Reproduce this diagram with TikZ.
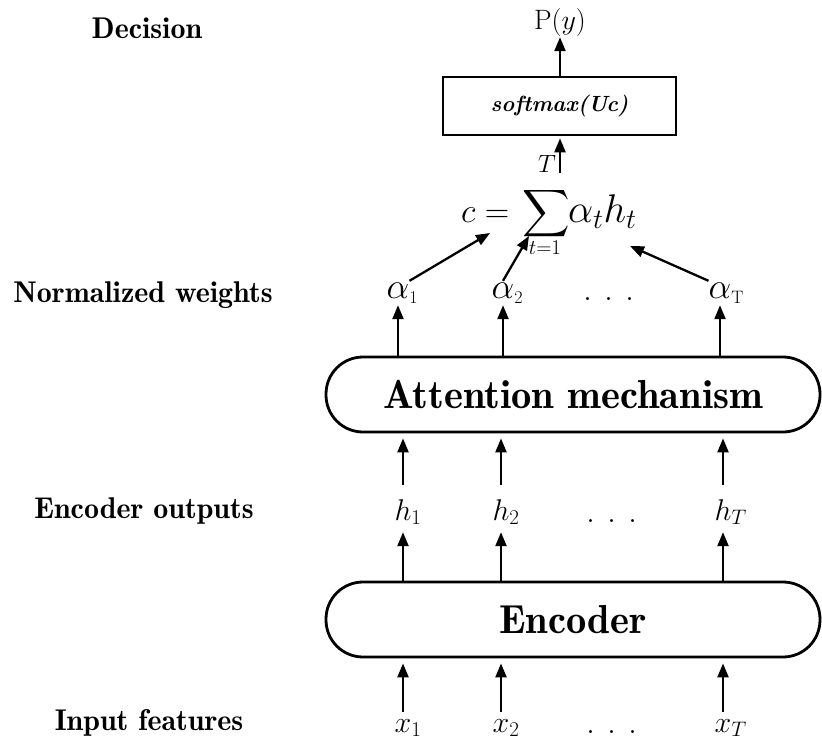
\RequirePackage{fix-cm}
\documentclass[tikz,border=0pt]{standalone}
\DeclareFontShape{OMX}{cmex}{m}{n}{<-> cmex10}{}
\usetikzlibrary{arrows.meta}
\begin{document}
\begin{tikzpicture}[x=1pt,y=1pt,
  rowlabel/.style={font=\fontsize{30}{34}\fontseries{b}\selectfont, anchor=base},
  stage/.style={draw, line width=2.8pt, rounded corners=37pt, minimum width=494pt,
    minimum height=75pt, inner sep=0pt, font=\fontsize{40.5}{46}\fontseries{b}\selectfont},
  arr/.style={-{Triangle[length=14pt,width=11pt]}, line width=2.3pt},
  sym/.style={inner sep=0pt, anchor=base, font=\fontsize{30}{34}\selectfont},
  alph/.style={sym, font=\fontsize{36}{40}\selectfont, text height=17pt, text depth=7pt},
  hrow/.style={sym, text height=35pt, text depth=12pt},
  xrow/.style={sym, text height=20pt, text depth=7pt},
  dotsym/.style={inner sep=0pt, anchor=base, font=\fontsize{36}{40}\selectfont},
  formula/.style={inner sep=0pt},
]
\useasboundingbox (0,0) rectangle (822,-741);

% row captions
\node[rowlabel] (capdec) at (147,-39)  {Decision};
\node[rowlabel] (capnw)  at (143,-302) {Normalized weights};
\node[rowlabel] (capeo)  at (144,-518) {Encoder outputs};
\node[rowlabel] (capin)  at (149,-730) {Input features};

% processing blocks
\node[stage] (att) at (573,-394.5) {Attention mechanism};
\node[stage] (enc) at (573,-619.5) {Encoder};
\node[draw, line width=2.6pt, minimum width=233pt, minimum height=58pt, inner sep=0pt,
      font=\fontsize{22}{26}\selectfont\bfseries\itshape] (sm) at (559.5,-106) {softmax(Uc)};

% output
\node[inner sep=0pt, anchor=base, font=\fontsize{28}{32}\selectfont] (py) at (560,-30) {P($y$)};

% context vector c = sum_{t=1}^T alpha_t h_t
\node[formula, anchor=base west, font=\fontsize{34}{38}\selectfont] (fc) at (461,-222) {$c=$};
\node[formula, anchor=base, font=\fontsize{33}{38}\selectfont] (fsum) at (546,-222)
  {$\displaystyle\sum$};
\node[formula, anchor=base, font=\fontsize{25}{28}\selectfont] (fup) at (547,-172) {$T$};
\node[formula, anchor=base, font=\fontsize{21}{24}\selectfont] (flow) at (545,-254) {$t{=}1$};
\node[formula, anchor=base west, font=\fontsize{40}{44}\selectfont] (fah) at (568,-222)
  {$\alpha_t h_t$};

% weights
\node[alph] (a1) at (398,-298) {$\alpha\rlap{$_{\scriptscriptstyle 1}$}$};
\node[alph] (a2) at (503,-298) {$\alpha\rlap{$_{\scriptscriptstyle 2}$}$};
\node[dotsym] (ad) at (609,-300) {.\hspace{12pt}.\hspace{12pt}.};
\node[alph] (aT) at (720,-298) {$\alpha\rlap{$_{\scriptscriptstyle\mathrm{T}}$}$};

% encoder outputs
\node[hrow] (h1) at (403,-520) {$h\rlap{$_1$}$};
\node[hrow] (h2) at (501,-520) {$h\rlap{$_2$}$};
\node[dotsym] (hd) at (612,-522) {.\hspace{12pt}.\hspace{12pt}.};
\node[hrow] (hT) at (723,-520) {$h\rlap{$_T$}$};

% inputs
\node[xrow] (x1) at (403,-732) {$x\rlap{$_1$}$};
\node[xrow] (x2) at (501,-732) {$x\rlap{$_2$}$};
\node[dotsym] (xd) at (612,-733) {.\hspace{12pt}.\hspace{12pt}.};
\node[xrow] (xT) at (723,-732) {$x\rlap{$_T$}$};

% anchor points on the context formula
\coordinate (ctop) at (560,-173);
\coordinate (tipc) at (490,-233);
\coordinate (tips) at (529,-236);
\coordinate (tiph) at (630,-246);

% connectors
\draw[arr] (sm.north -| py) -- (py);
\draw[arr] (ctop) -- ([yshift=-2pt]sm.south -| ctop);
\draw[arr] (a1.north east) -- (tipc);
\draw[arr] (a2.north) -- (tips);
\draw[arr] (aT.north west) -- (tiph);
\foreach \n in {a1,a2,aT} \draw[arr] (att.north -| \n) -- (\n);
\foreach \n in {h1,h2,hT} \draw[arr, shorten >=5pt] (\n) -- (\n |- att.south);
\foreach \n in {h1,h2,hT} \draw[arr] (enc.north -| \n) -- (\n);
\foreach \n in {x1,x2,xT} \draw[arr, shorten >=5pt] (\n) -- (\n |- enc.south);
\end{tikzpicture}
\end{document}
